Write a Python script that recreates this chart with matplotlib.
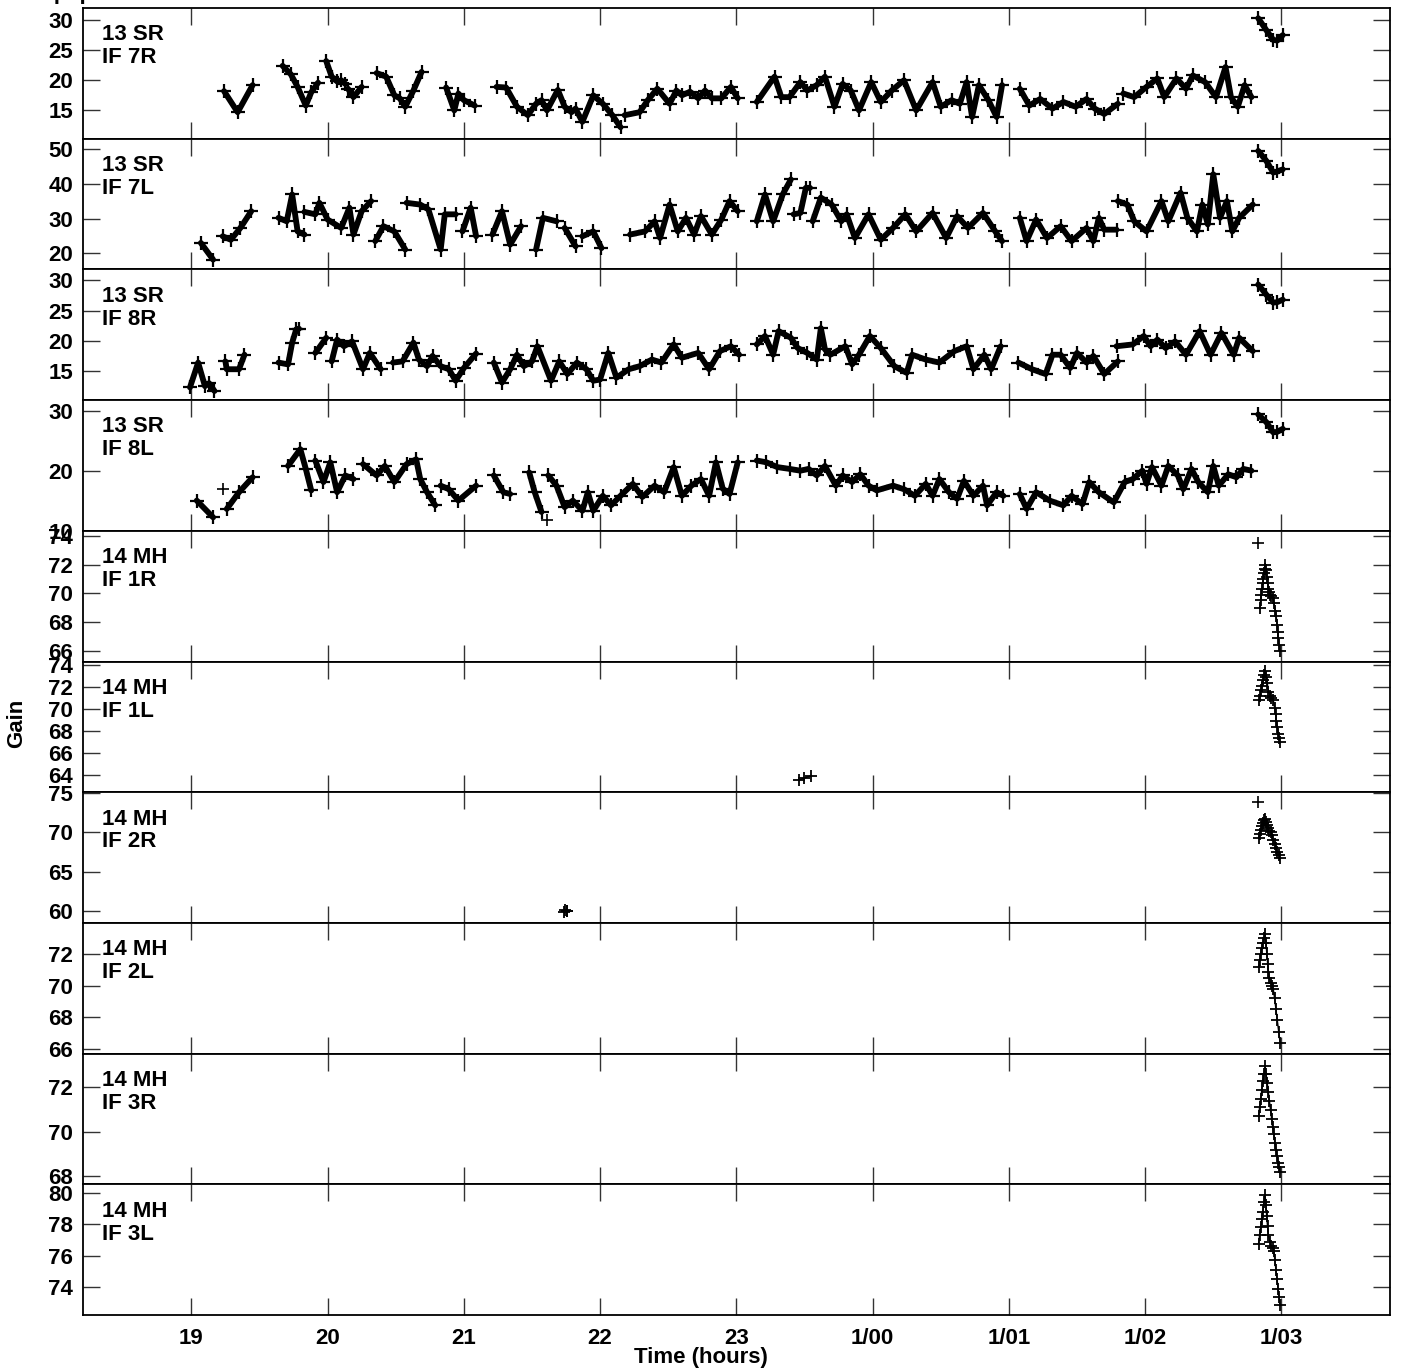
import numpy as np
import matplotlib
matplotlib.use("Agg")
import matplotlib.pyplot as plt

plt.rcParams["font.family"] = ["Liberation Sans", "DejaVu Sans"]
plt.rcParams["font.weight"] = "bold"

# ---- data: segments of (time [h], gain) ----
SR_7R = [
    [(19.24, 18.2), (19.34, 14.7), (19.45, 19.2)],
    [(19.67, 22.4), (19.73, 21.0), (19.78, 18.9), (19.84, 15.8), (19.88, 18.0), (19.93, 19.6)],
    [(19.99, 23.2), (20.03, 20.6), (20.07, 19.8), (20.10, 20.0), (20.13, 19.4)],
    [(20.15, 18.6), (20.19, 17.2), (20.25, 18.9)],
    [(20.36, 21.2), (20.43, 20.6), (20.49, 17.5), (20.53, 17.0), (20.57, 15.6), (20.63, 18.3), (20.69, 21.4)],
    [(20.87, 18.8), (20.93, 15.0), (20.96, 17.8), (21.00, 16.7), (21.08, 15.8)],
    [(21.24, 18.9), (21.31, 18.8), (21.39, 15.6), (21.47, 14.2), (21.53, 16.1), (21.57, 16.7),
     (21.61, 15.0), (21.69, 18.4), (21.74, 15.6), (21.79, 14.7), (21.82, 15.3), (21.87, 13.1),
     (21.95, 17.5), (22.02, 16.1), (22.09, 14.2), (22.15, 12.2)],
    [(22.18, 14.2), (22.29, 14.7), (22.35, 16.7), (22.42, 18.6), (22.51, 16.1), (22.56, 18.3),
     (22.60, 17.5), (22.66, 18.1), (22.72, 17.0), (22.77, 18.3), (22.82, 17.0), (22.89, 17.0),
     (22.96, 18.9), (23.01, 17.0)],
    [(23.15, 16.4), (23.28, 20.6), (23.33, 17.2), (23.39, 17.2), (23.47, 19.7), (23.52, 18.3),
     (23.59, 19.2), (23.65, 20.6), (23.72, 15.6), (23.78, 19.4), (23.84, 18.3), (23.90, 15.0),
     (23.99, 19.7), (24.06, 16.4), (24.14, 18.3), (24.23, 20.0), (24.32, 15.0), (24.44, 19.7),
     (24.50, 15.6), (24.58, 16.7), (24.64, 16.1), (24.69, 19.7), (24.73, 13.9), (24.78, 19.2),
     (24.85, 16.7), (24.91, 13.9), (24.95, 19.2)],
    [(25.08, 18.6), (25.15, 15.8), (25.23, 16.9), (25.32, 15.3), (25.40, 16.4), (25.49, 15.6),
     (25.57, 16.9), (25.63, 15.3), (25.70, 14.4), (25.80, 16.1)],
    [(25.84, 17.8), (25.92, 17.2), (26.01, 18.9), (26.09, 20.3), (26.14, 17.2), (26.23, 20.3),
     (26.30, 18.6), (26.35, 20.8), (26.44, 19.7), (26.52, 17.2), (26.59, 22.2), (26.63, 17.2),
     (26.68, 15.6), (26.73, 19.2), (26.78, 17.2)],
    [(26.83, 30.3), (26.89, 28.3), (26.94, 26.7), (26.97, 26.6), (27.01, 27.5)],
]

SR_7L = [
    [(19.07, 23.0), (19.16, 18.2)],
    [(19.23, 24.9), (19.29, 23.9), (19.36, 27.3), (19.44, 32.1)],
    [(19.64, 30.2), (19.70, 29.2), (19.74, 36.9), (19.78, 26.3), (19.83, 25.4)],
    [(19.83, 31.9), (19.91, 31.2), (19.94, 34.5), (20.00, 29.7), (20.10, 27.3), (20.16, 33.1),
     (20.19, 25.4), (20.25, 32.1), (20.32, 35.0)],
    [(20.35, 23.5), (20.41, 27.8), (20.49, 26.3), (20.57, 21.1)],
    [(20.58, 34.5), (20.68, 34.0), (20.74, 32.6), (20.83, 21.1), (20.86, 31.2), (20.94, 31.2)],
    [(20.99, 26.3), (21.05, 33.1), (21.09, 24.9)],
    [(21.21, 25.4), (21.28, 32.1), (21.34, 22.5), (21.42, 27.8)],
    [(21.53, 21.1), (21.58, 30.2), (21.68, 29.2)],
    [(21.74, 27.3), (21.82, 22.0)],
    [(21.87, 24.9), (21.95, 26.3), (22.01, 21.5)],
    [(22.22, 25.4), (22.33, 26.3), (22.40, 29.2), (22.44, 24.4), (22.51, 34.0), (22.57, 26.3),
     (22.63, 30.2), (22.69, 25.4), (22.74, 30.7), (22.82, 25.4), (22.89, 29.7), (22.95, 35.0),
     (23.01, 32.1)],
    [(23.15, 29.2), (23.21, 36.9), (23.27, 29.2), (23.34, 36.9), (23.40, 41.2)],
    [(23.42, 31.2), (23.47, 31.6), (23.51, 38.8), (23.54, 38.8)],
    [(23.56, 29.2), (23.62, 36.0), (23.70, 34.0), (23.77, 29.2), (23.81, 31.2), (23.87, 24.4),
     (23.97, 31.2), (24.06, 23.9), (24.15, 27.3), (24.24, 31.2), (24.32, 26.3), (24.44, 31.6),
     (24.54, 24.4), (24.62, 30.7), (24.70, 27.3), (24.81, 31.6), (24.90, 26.3), (24.95, 23.5)],
    [(25.08, 30.2), (25.13, 23.5), (25.20, 29.7), (25.28, 24.4), (25.38, 27.8), (25.46, 23.5),
     (25.57, 27.3), (25.62, 23.5), (25.66, 30.2), (25.70, 26.8), (25.79, 26.8)],
    [(25.80, 35.0), (25.87, 34.0), (25.92, 29.2), (26.01, 26.3), (26.12, 35.0), (26.17, 29.2),
     (26.26, 37.4), (26.31, 30.2), (26.38, 26.3), (26.42, 34.0), (26.46, 28.3), (26.50, 42.7),
     (26.55, 30.2), (26.60, 35.0), (26.64, 26.3), (26.69, 30.2), (26.79, 34.0)],
    [(26.83, 49.4), (26.89, 46.5), (26.94, 43.2), (26.97, 43.5), (27.01, 44.1)],
]

SR_8R = [
    [(18.99, 12.3), (19.05, 16.4), (19.10, 12.5), (19.13, 13.0), (19.17, 11.7)],
    [(19.25, 16.6), (19.26, 15.3), (19.35, 15.3), (19.39, 17.7)],
    [(19.64, 16.4), (19.71, 16.1), (19.74, 19.7), (19.77, 21.9), (19.79, 22.0)],
    [(19.91, 18.0), (19.99, 20.5)],
    [(20.03, 16.6), (20.07, 20.2), (20.12, 19.1), (20.18, 19.9), (20.26, 15.3), (20.31, 18.0), (20.39, 15.3)],
    [(20.48, 16.4), (20.55, 16.6), (20.63, 19.7), (20.67, 16.9), (20.73, 15.8), (20.77, 17.5),
     (20.83, 15.8), (20.89, 15.3), (20.94, 13.4), (21.00, 15.5), (21.09, 17.9)],
    [(21.22, 16.4), (21.28, 13.1), (21.34, 15.3), (21.39, 17.7), (21.44, 15.8), (21.50, 16.6),
     (21.54, 19.1), (21.64, 13.4), (21.70, 16.6), (21.76, 14.5), (21.83, 16.4), (21.90, 15.3),
     (21.95, 13.4), (22.00, 13.6), (22.06, 18.0), (22.12, 13.9), (22.21, 15.3), (22.29, 15.8),
     (22.38, 16.9), (22.45, 16.4), (22.54, 19.4), (22.60, 17.2), (22.72, 18.0), (22.80, 15.3),
     (22.88, 18.3), (22.96, 19.1), (23.02, 17.7)],
    [(23.15, 19.4), (23.21, 20.8), (23.27, 17.7), (23.31, 21.6), (23.40, 20.5), (23.45, 18.8),
     (23.52, 18.0), (23.59, 16.9), (23.62, 22.1), (23.65, 18.6), (23.69, 17.7), (23.80, 19.1),
     (23.85, 16.1), (23.90, 17.7), (23.98, 20.8), (24.06, 18.8), (24.16, 15.8), (24.25, 14.7),
     (24.29, 17.7), (24.39, 16.9), (24.49, 16.4), (24.60, 18.3), (24.69, 19.1), (24.74, 15.3),
     (24.82, 17.7), (24.87, 15.3), (24.94, 19.1)],
    [(25.07, 16.4), (25.17, 15.3), (25.27, 14.5), (25.32, 17.7), (25.38, 17.7), (25.45, 15.5),
     (25.50, 18.0), (25.57, 16.4), (25.62, 17.5), (25.70, 14.5), (25.80, 16.6)],
    [(25.79, 19.1), (25.91, 19.4), (25.99, 20.8), (26.04, 19.1), (26.09, 20.2), (26.15, 18.8),
     (26.22, 19.9), (26.30, 17.7), (26.40, 21.6), (26.48, 17.7), (26.56, 21.3), (26.65, 17.7),
     (26.69, 20.5), (26.79, 18.3)],
    [(26.83, 29.3), (26.89, 27.6), (26.94, 26.3), (26.97, 26.4), (27.01, 26.8)],
]

SR_8L = [
    [(19.04, 15.0), (19.16, 12.2)],
    [(19.23, 16.9)],
    [(19.26, 13.6), (19.35, 16.4), (19.45, 18.9)],
    [(19.71, 20.8), (19.80, 23.6), (19.84, 20.3), (19.88, 16.7)],
    [(19.91, 21.7), (19.97, 18.1), (20.02, 21.4), (20.07, 16.4), (20.13, 19.2), (20.19, 18.6)],
    [(20.26, 21.1), (20.36, 19.2), (20.42, 20.8), (20.49, 18.1), (20.58, 21.1), (20.65, 21.9),
     (20.68, 18.6), (20.73, 16.4), (20.79, 14.2)],
    [(20.83, 17.5), (20.89, 16.9), (20.96, 15.0), (21.09, 17.5)],
    [(21.22, 19.2), (21.29, 16.4), (21.34, 16.1)],
    [(21.48, 19.7), (21.52, 16.4), (21.57, 13.1)],
    [(21.61, 11.7)],
    [(21.62, 19.2), (21.68, 17.5), (21.74, 13.9), (21.80, 15.0), (21.87, 13.3), (21.91, 16.4),
     (21.95, 13.3), (22.02, 15.8), (22.08, 14.2), (22.15, 15.8), (22.24, 17.8), (22.31, 15.6),
     (22.40, 17.5), (22.47, 16.4), (22.54, 20.6), (22.60, 15.8), (22.67, 17.5), (22.74, 18.6),
     (22.80, 15.8), (22.85, 21.4), (22.90, 17.0), (22.95, 16.1), (23.01, 21.4)],
    [(23.15, 21.7), (23.22, 21.4), (23.30, 20.6), (23.39, 20.3), (23.47, 20.0), (23.53, 20.3),
     (23.59, 19.2), (23.65, 20.8), (23.73, 17.5), (23.78, 19.2), (23.85, 18.1), (23.91, 19.4),
     (23.97, 17.5), (24.03, 16.7), (24.15, 17.5), (24.23, 16.9), (24.31, 15.8), (24.39, 17.8),
     (24.44, 15.8), (24.49, 18.6), (24.56, 16.4), (24.62, 15.3), (24.67, 18.3), (24.74, 15.8),
     (24.81, 17.5), (24.84, 14.2), (24.91, 16.4), (24.96, 15.8)],
    [(25.08, 16.1), (25.13, 13.6), (25.20, 16.4), (25.30, 15.0), (25.40, 14.2), (25.46, 15.8),
     (25.54, 14.4), (25.59, 18.1), (25.66, 16.4), (25.77, 14.7), (25.85, 18.1), (25.91, 18.6),
     (25.98, 20.0), (26.01, 17.8), (26.05, 20.6), (26.12, 17.5), (26.17, 20.8), (26.24, 19.2),
     (26.28, 16.9), (26.34, 20.3), (26.39, 18.1), (26.46, 16.4), (26.50, 20.8), (26.54, 17.5),
     (26.61, 19.4), (26.67, 18.9), (26.72, 20.3), (26.78, 20.0)],
    [(26.83, 29.4), (26.89, 28.1), (26.94, 26.4), (26.97, 26.5), (27.01, 27.0)],
]

MH_1R = [
    [(26.830, 73.5)],
    [(26.842, 69.0), (26.847, 69.5), (26.852, 69.9), (26.857, 70.3), (26.862, 70.7), (26.867, 71.0),
     (26.872, 71.4), (26.877, 71.7), (26.883, 71.95), (26.888, 71.6), (26.893, 71.1), (26.898, 70.7),
     (26.905, 70.3), (26.912, 70.1), (26.918, 69.9), (26.925, 69.8), (26.935, 69.7), (26.945, 69.3),
     (26.955, 68.8), (26.962, 68.4), (26.968, 67.8), (26.973, 67.3), (26.978, 66.9), (26.983, 66.4),
     (26.988, 66.0)],
]

MH_1L = [
    [(23.46, 63.5), (23.50, 63.7), (23.55, 63.9)],
    [(26.838, 70.8), (26.845, 71.2), (26.852, 71.7), (26.860, 72.1), (26.867, 72.6), (26.875, 73.1),
     (26.883, 73.4), (26.890, 72.9), (26.897, 72.3), (26.905, 71.5), (26.915, 71.2), (26.925, 71.0),
     (26.940, 70.8), (26.950, 70.1), (26.957, 69.5), (26.963, 68.9), (26.970, 68.3), (26.977, 67.7),
     (26.983, 67.3), (26.988, 67.0)],
]

MH_2R = [
    [(21.735, 59.9), (21.745, 60.05), (21.755, 60.0), (21.760, 59.95)],
    [(26.825, 73.8)],
    [(26.832, 69.3), (26.840, 69.8), (26.848, 70.3), (26.856, 70.8), (26.864, 71.2), (26.872, 71.5),
     (26.880, 71.7), (26.888, 71.3), (26.896, 70.9), (26.904, 70.5), (26.912, 70.2), (26.920, 70.0),
     (26.930, 69.6), (26.940, 69.0), (26.950, 68.5), (26.960, 68.0), (26.970, 67.5), (26.980, 67.1),
     (26.990, 66.7)],
]

MH_2L = [
    [(26.832, 71.2), (26.840, 71.6), (26.848, 72.0), (26.856, 72.4), (26.864, 72.7), (26.872, 73.0),
     (26.880, 73.3), (26.887, 72.7), (26.893, 72.0), (26.899, 71.4), (26.905, 70.9), (26.912, 70.5),
     (26.920, 70.2), (26.930, 70.0), (26.940, 69.8), (26.950, 69.2), (26.960, 68.5), (26.970, 67.8),
     (26.980, 67.1), (26.990, 66.4)],
]

MH_3R = [
    [(26.832, 70.7), (26.840, 71.1), (26.848, 71.5), (26.856, 71.9), (26.864, 72.3), (26.872, 72.6),
     (26.880, 72.95), (26.888, 72.6), (26.896, 72.2), (26.904, 71.8), (26.912, 71.4), (26.920, 71.0),
     (26.928, 70.6), (26.936, 70.2), (26.944, 69.9), (26.952, 69.5), (26.960, 69.2), (26.968, 68.9),
     (26.976, 68.6), (26.984, 68.4), (26.990, 68.2)],
]

MH_3L = [
    [(26.832, 76.75), (26.840, 77.3), (26.848, 77.8), (26.856, 78.3), (26.864, 78.8), (26.872, 79.4),
     (26.880, 79.86), (26.886, 79.2), (26.892, 78.5), (26.898, 77.9), (26.905, 77.3), (26.915, 76.9),
     (26.925, 76.6), (26.935, 76.5), (26.945, 76.3), (26.952, 75.7), (26.960, 75.1), (26.968, 74.5),
     (26.976, 73.9), (26.983, 73.4), (26.990, 72.9)],
]

panel_labels = ["13 SR\nIF 7R", "13 SR\nIF 7L", "13 SR\nIF 8R", "13 SR\nIF 8L",
                "14 MH\nIF 1R", "14 MH\nIF 1L", "14 MH\nIF 2R", "14 MH\nIF 2L",
                "14 MH\nIF 3R", "14 MH\nIF 3L"]
panel_data = [SR_7R, SR_7L, SR_8R, SR_8L, MH_1R, MH_1L, MH_2R, MH_2L, MH_3R, MH_3L]
y_ticks = [[15, 20, 25, 30], [20, 30, 40, 50], [15, 20, 25, 30], [10, 20, 30],
           [66, 68, 70, 72, 74], [64, 66, 68, 70, 72, 74], [60, 65, 70, 75],
           [66, 68, 70, 72], [68, 70, 72], [74, 76, 78, 80]]
y_limits = [(10.3, 32.0), (15.4, 52.9), (10.2, 31.8), (9.95, 31.8),
            (65.25, 74.35), (62.4, 74.3), (58.46, 75.1), (65.7, 73.98),
            (67.63, 73.53), (72.24, 80.53)]
x_ticks = [19, 20, 21, 22, 23, 24, 25, 26, 27]
x_tick_labels = ["19", "20", "21", "22", "23", "1/00", "1/01", "1/02", "1/03"]

W, H = 1401, 1371
fig, axes = plt.subplots(10, 1, figsize=(W / 100, H / 100), dpi=100, sharex=True)
fig.subplots_adjust(left=83 / W, right=1390 / W, top=1 - 8 / H, bottom=1 - 1315 / H, hspace=0)

for i, ax in enumerate(axes):
    dense = i < 4
    for seg in panel_data[i]:
        t = [p[0] for p in seg]
        g = [p[1] for p in seg]
        if len(seg) == 1:
            ax.plot(t, g, ls="none", marker="+", ms=9, mew=1.2, color="black")
        elif dense:
            ax.plot(t, g, color="black", lw=4.2, marker="+", ms=10, mew=1.6,
                    solid_joinstyle="round", solid_capstyle="round")
        else:
            ax.plot(t, g, color="black", lw=1.0, marker="+", ms=9, mew=1.3)

    ax.set_xlim(18.205, 27.797)
    ax.set_ylim(*y_limits[i])
    ax.set_yticks(y_ticks[i])
    ax.set_xticks(x_ticks)
    ax.tick_params(axis="both", direction="in", length=12.5, width=1.0, color="#333333",
                   top=True, right=True, labelsize=16, pad=7)
    ax.tick_params(axis="x", labelbottom=(i == 9), pad=9)
    for sp in ax.spines.values():
        sp.set_linewidth(1.3)
    ax.text(0.0143, 0.875, panel_labels[i], transform=ax.transAxes, ha="left", va="top",
            fontsize=16, fontweight="bold", linespacing=1.12)

axes[-1].set_xticklabels(x_tick_labels)
for lab in axes[-1].get_xticklabels() + [l for a in axes for l in a.get_yticklabels()]:
    lab.set_fontweight("bold")

fig.text(0.5, 1 - 1357 / H, "Time (hours)", ha="center", va="center", fontsize=16, fontweight="bold")
fig.text(17 / W, 1 - 723 / H, "Gain", ha="center", va="center", rotation=90,
         fontsize=16, fontweight="bold")
fig.text(18 / W, 1 + 1.5 / H, "Amp  plot", ha="left", va="baseline", fontsize=16, fontweight="bold")

fig.savefig("out.png", dpi=100)
